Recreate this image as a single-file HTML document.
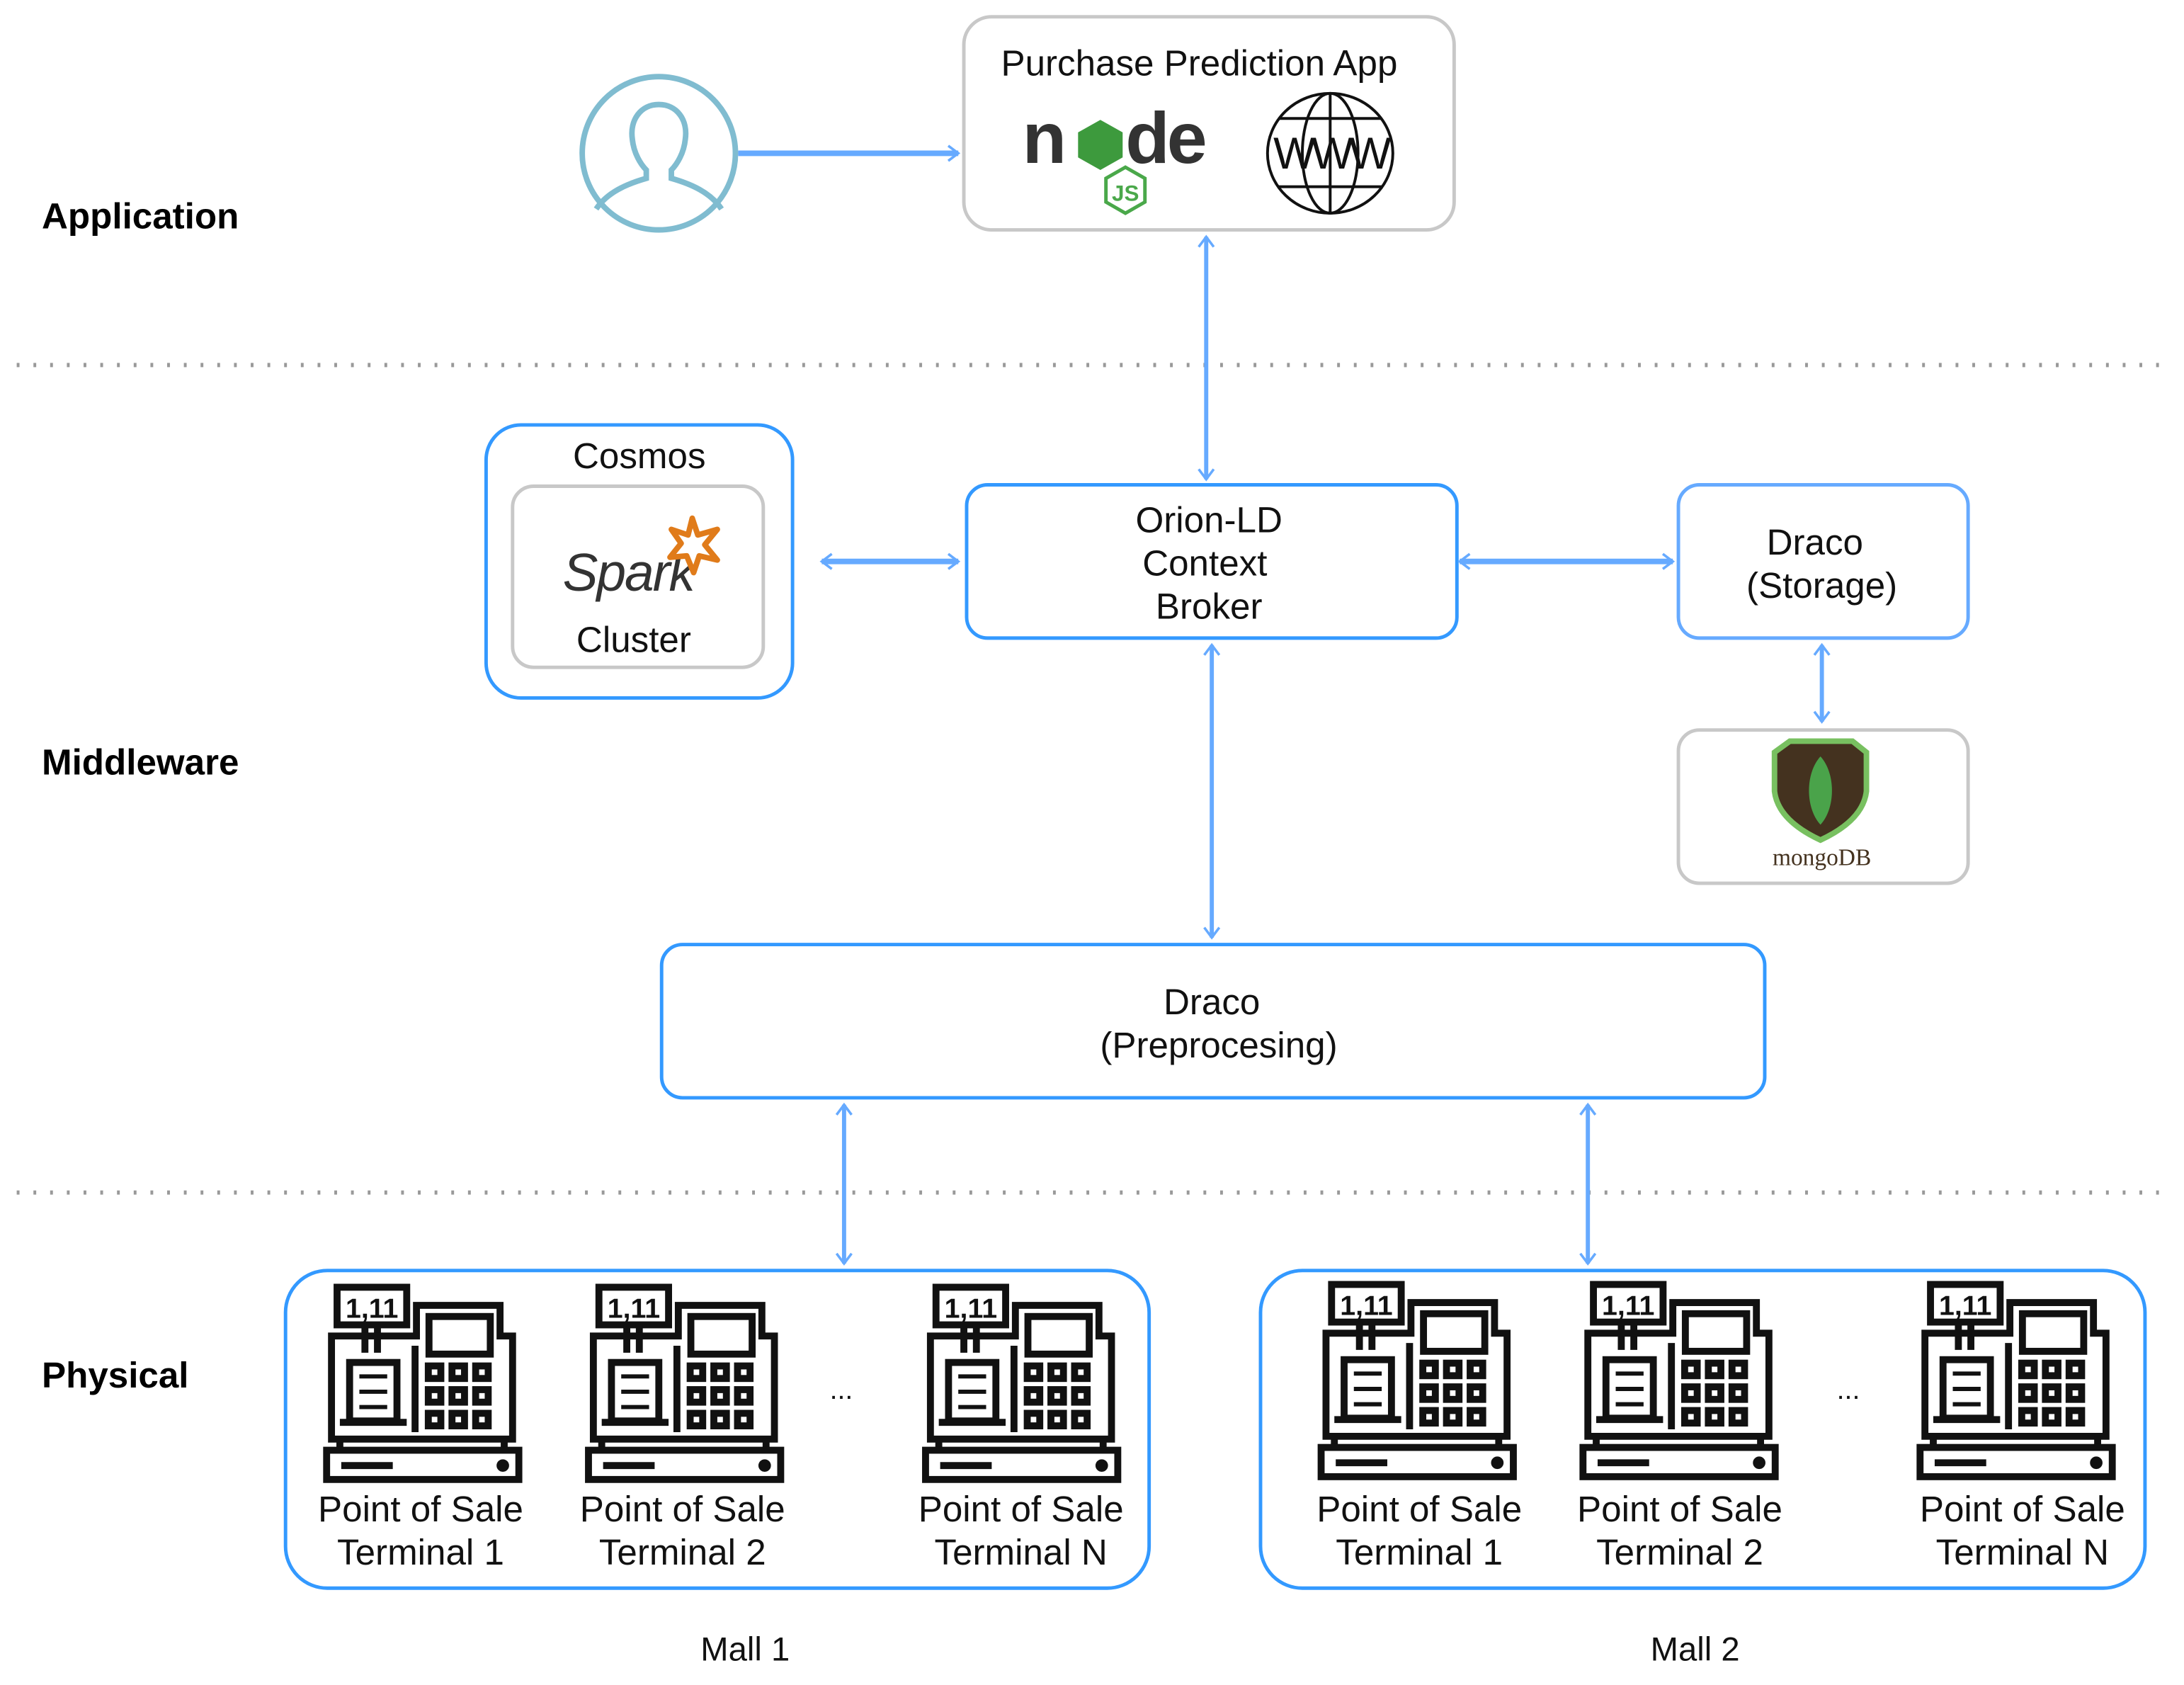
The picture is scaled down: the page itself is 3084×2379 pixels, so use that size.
<!DOCTYPE html>
<html><head><meta charset="utf-8"><style>html,body{margin:0;padding:0;background:#fff}svg{display:block}</style></head>
<body>
<svg width="3084" height="2379" viewBox="0 0 1568 1209.5" xmlns="http://www.w3.org/2000/svg" font-family="Liberation Sans, sans-serif">
<defs>
<marker id="a" viewBox="0 0 20 20" refX="18" refY="10" markerWidth="12" markerHeight="12" markerUnits="userSpaceOnUse" orient="auto-start-reverse" overflow="visible">
<polyline points="6,1 18,10 6,19" fill="none" stroke="#66aaff" stroke-width="3"/>
</marker>
<g id="reg" fill="none" stroke="#111" stroke-width="5">
<rect x="10" y="2" width="50" height="27" fill="#fff"/>
<text x="35" y="24" font-size="20" font-weight="bold" text-anchor="middle" fill="#111" stroke="none">1,11</text>
<line x1="30" y1="29" x2="30" y2="49"/><line x1="39" y1="29" x2="39" y2="49"/>
<path d="M6,111 L6,37 L67,37 L67,15 L127,15 L127,37 L136,37 L136,111 Z"/>
<rect x="76" y="23" width="44" height="27"/>
<g fill="#111" stroke="none">
<rect x="73" y="56" width="14" height="14"/><rect x="90" y="56" width="14" height="14"/><rect x="107" y="56" width="14" height="14"/>
<rect x="73" y="73" width="14" height="14"/><rect x="90" y="73" width="14" height="14"/><rect x="107" y="73" width="14" height="14"/>
<rect x="73" y="90" width="14" height="14"/><rect x="90" y="90" width="14" height="14"/><rect x="107" y="90" width="14" height="14"/>
</g>
<g fill="#fff" stroke="none">
<rect x="78" y="61" width="4" height="4"/><rect x="95" y="61" width="4" height="4"/><rect x="112" y="61" width="4" height="4"/>
<rect x="78" y="78" width="4" height="4"/><rect x="95" y="78" width="4" height="4"/><rect x="112" y="78" width="4" height="4"/>
<rect x="78" y="95" width="4" height="4"/><rect x="95" y="95" width="4" height="4"/><rect x="112" y="95" width="4" height="4"/>
</g>
<rect x="19" y="56" width="34" height="42"/>
<line x1="12" y1="99" x2="60" y2="99"/>
<g stroke-width="3"><line x1="26" y1="66" x2="46" y2="66"/><line x1="26" y1="77" x2="46" y2="77"/><line x1="26" y1="88" x2="46" y2="88"/></g>
<line x1="66" y1="44" x2="66" y2="106"/>
<line x1="12" y1="111" x2="12" y2="119"/><line x1="130" y1="111" x2="130" y2="119"/>
<rect x="2.5" y="119" width="138" height="21"/>
<line x1="13" y1="130" x2="50" y2="130"/>
<circle cx="129" cy="130" r="2" fill="#111"/>
</g>
</defs>

<g font-size="26" font-weight="bold" fill="#000">
<text x="30" y="164">Application</text>
<text x="30" y="556">Middleware</text>
<text x="30" y="996">Physical</text>
</g>
<line x1="12" y1="262" x2="1552" y2="262" stroke="#999" stroke-width="3" stroke-dasharray="2,10"/>
<line x1="12" y1="856" x2="1552" y2="856" stroke="#999" stroke-width="3" stroke-dasharray="2,10"/>

<circle cx="473" cy="110" r="55" fill="none" stroke="#80bcd0" stroke-width="4"/>
<path d="M473,75 C460,75 452,86 454,100 C455,110 460,118 464,122 L464,128 C450,132 436,138 428,150 M473,75 C486,75 494,86 492,100 C491,110 486,118 482,122 L482,128 C496,132 510,138 518,150" fill="none" stroke="#80bcd0" stroke-width="4"/>
<line x1="530" y1="110" x2="688" y2="110" stroke="#66aaff" stroke-width="4" marker-end="url(#a)"/>

<rect x="692" y="12" width="352" height="153" rx="20" fill="#fff" stroke="#c8c8c8" stroke-width="2.5"/>
<text x="861" y="54" font-size="26" text-anchor="middle" fill="#111">Purchase Prediction App</text>
<text x="734" y="117" font-size="52" font-weight="bold" fill="#333" letter-spacing="-2">n</text>
<polygon points="790,86 806,95 806,113 790,122 774,113 774,95" fill="#3d9a3d"/>
<text x="808" y="117" font-size="52" font-weight="bold" fill="#333" letter-spacing="-2">de</text>
<polygon points="808,120 822,128 822,145 808,153 794,145 794,128" fill="none" stroke="#4aa84a" stroke-width="2.5"/>
<text x="808" y="144" font-size="16" font-weight="bold" text-anchor="middle" fill="#4aa84a">JS</text>
<rect x="905" y="65" width="100" height="88" fill="#fff"/>
<g fill="none" stroke="#111" stroke-width="2">
<ellipse cx="955" cy="110" rx="45" ry="43"/>
<ellipse cx="955" cy="110" rx="20" ry="43"/>
<line x1="955" y1="67" x2="955" y2="153"/>
<line x1="918" y1="85" x2="992" y2="85"/><line x1="918" y1="134" x2="992" y2="134"/>
</g>
<text x="955" y="121" font-size="32" text-anchor="middle" fill="#111" letter-spacing="-3">WWW</text>

<line x1="866" y1="170" x2="866" y2="344" stroke="#66aaff" stroke-width="3" marker-start="url(#a)" marker-end="url(#a)"/>

<rect x="349" y="305" width="220" height="196" rx="25" fill="#fff" stroke="#3399ff" stroke-width="2.5"/>
<text x="459" y="336" font-size="26" text-anchor="middle" fill="#111">Cosmos</text>
<rect x="368" y="349" width="180" height="130" rx="15" fill="#fff" stroke="#c8c8c8" stroke-width="2.5"/>
<text x="404" y="424" font-size="38" font-style="italic" fill="#333" letter-spacing="-1">Spark</text>
<polygon points="497,372 501,384 515,380 506,391 515,402 502,399 498,411 493,399 481,400 489,390 482,380 494,384" fill="#fff" stroke="#e07b1a" stroke-width="4" stroke-linejoin="round"/>
<text x="455" y="468" font-size="26" text-anchor="middle" fill="#111">Cluster</text>

<line x1="590" y1="403" x2="688" y2="403" stroke="#66aaff" stroke-width="4" marker-start="url(#a)" marker-end="url(#a)"/>

<rect x="694" y="348" width="352" height="110" rx="15" fill="#fff" stroke="#3399ff" stroke-width="2.5"/>
<g font-size="26" text-anchor="middle" fill="#111">
<text x="868" y="382">Orion-LD</text>
<text x="865" y="413">Context</text>
<text x="868" y="444">Broker</text>
</g>
<line x1="1048" y1="403" x2="1201" y2="403" stroke="#66aaff" stroke-width="4" marker-start="url(#a)" marker-end="url(#a)"/>

<rect x="1205" y="348" width="208" height="110" rx="15" fill="#fff" stroke="#66aaff" stroke-width="2.5"/>
<g font-size="26" text-anchor="middle" fill="#111">
<text x="1303" y="398">Draco</text>
<text x="1308" y="429">(Storage)</text>
</g>
<line x1="1308" y1="463" x2="1308" y2="518" stroke="#66aaff" stroke-width="3" marker-start="url(#a)" marker-end="url(#a)"/>

<rect x="1205" y="524" width="208" height="110" rx="15" fill="#fff" stroke="#c8c8c8" stroke-width="2.5"/>
<path d="M1285,532 L1330,532 L1340,540 L1340,568 C1338,585 1322,596 1307,603 C1292,596 1276,585 1274,568 L1274,540 Z" fill="#44321f" stroke="#78c060" stroke-width="4"/>
<path d="M1307,543 C1318,555 1318,580 1307,592 C1296,580 1296,555 1307,543 Z" fill="#4aa34a"/>
<text x="1308" y="621" font-size="17" text-anchor="middle" fill="#44321f" font-family="Liberation Serif, serif">mongoDB</text>

<line x1="870" y1="463" x2="870" y2="673" stroke="#66aaff" stroke-width="3" marker-start="url(#a)" marker-end="url(#a)"/>

<rect x="475" y="678" width="792" height="110" rx="15" fill="#fff" stroke="#3399ff" stroke-width="2.5"/>
<g font-size="26" text-anchor="middle" fill="#111">
<text x="870" y="728">Draco</text>
<text x="875" y="759">(Preprocesing)</text>
</g>
<line x1="606" y1="793" x2="606" y2="907" stroke="#66aaff" stroke-width="3" marker-start="url(#a)" marker-end="url(#a)"/>
<line x1="1140" y1="793" x2="1140" y2="907" stroke="#66aaff" stroke-width="3" marker-start="url(#a)" marker-end="url(#a)"/>

<rect x="205" y="912" width="620" height="228" rx="30" fill="#fff" stroke="#3399ff" stroke-width="2.5"/>
<rect x="905" y="912" width="635" height="228" rx="30" fill="#fff" stroke="#3399ff" stroke-width="2.5"/>
<use href="#reg" x="232" y="922"/>
<use href="#reg" x="420" y="922"/>
<use href="#reg" x="662" y="922"/>
<use href="#reg" x="946" y="920"/>
<use href="#reg" x="1134" y="920"/>
<use href="#reg" x="1376" y="920"/>
<g font-size="26" text-anchor="middle" fill="#111">
<text x="302" y="1092">Point of Sale</text><text x="302" y="1123">Terminal 1</text>
<text x="490" y="1092">Point of Sale</text><text x="490" y="1123">Terminal 2</text>
<text x="733" y="1092">Point of Sale</text><text x="733" y="1123">Terminal N</text>
<text x="1019" y="1092">Point of Sale</text><text x="1019" y="1123">Terminal 1</text>
<text x="1206" y="1092">Point of Sale</text><text x="1206" y="1123">Terminal 2</text>
<text x="1452" y="1092">Point of Sale</text><text x="1452" y="1123">Terminal N</text>
<text x="604" y="1004" font-size="20">...</text>
<text x="1327" y="1004" font-size="20">...</text>
<text x="535" y="1192" font-size="24">Mall  1</text>
<text x="1217" y="1192" font-size="24">Mall  2</text>
</g>
</svg>
</body></html>
